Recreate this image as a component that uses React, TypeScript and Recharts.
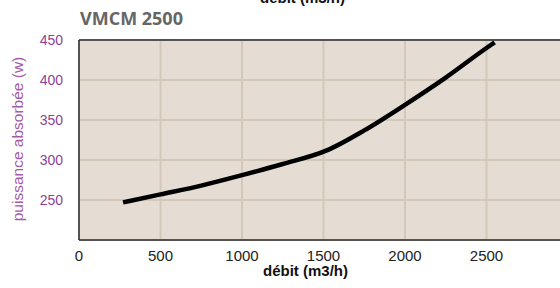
import React from 'react';
import {
    LineChart,
    Line,
    XAxis,
    YAxis,
    CartesianGrid,
    ReferenceLine
} from 'recharts';

// debit (m3/h) and absorbed power (w)
const debit = [270, 500, 750, 1000, 1250, 1520, 1750, 2000, 2250, 2500, 2550];
const puissance = [247, 257, 268, 281, 295, 312, 337, 369, 403, 440, 447];

const xTicks = [0, 500, 1000, 1500, 2000, 2500, 3000];
const yTicks = [200, 250, 300, 350, 400, 450];

const data = debit.map((d, i) => ({ debit: d, puissance: puissance[i] }));

const purple = '#8e3f91';

// rotated y axis title, centred on the plot height
const YTitle = () => (
    <text
        x={17}
        y={139}
        transform="rotate(-90, 17, 139)"
        textAnchor="middle"
        dominantBaseline="central"
        fill="#a45aa6"
        fontSize={15.5}
    >
        puissance absorbée (w)
    </text>
);

const App: React.FC = () => {
    return (
        <div style={{ position: 'absolute', left: 0, top: 0, width: 560, height: 288, overflow: 'hidden', background: '#fff', fontFamily: 'Liberation Sans, Arial, sans-serif' }}>
            {/* cut-off axis title from the chart above */}
            <div style={{ position: 'absolute', left: 260, top: -11, fontSize: 15, fontWeight: 700, color: '#111' }}>
                débit (m3/h)
            </div>
            <div style={{ position: 'absolute', left: 80, top: 6, fontSize: 18, fontWeight: 700, color: '#666', fontFamily: 'Open Sans, sans-serif' }}>
                VMCM 2500
            </div>
            <LineChart
                width={600}
                height={288}
                data={data}
                margin={{ top: 40, right: 32, bottom: 0, left: 0 }}
                style={{ position: 'absolute', left: 0, top: 0 }}
            >
                <CartesianGrid
                    stroke="#d3c8ba"
                    strokeWidth={2}
                    fill="#e5ddd3"
                    fillOpacity={1}
                />
                <XAxis
                    type="number"
                    dataKey="debit"
                    domain={[0, 3000]}
                    ticks={xTicks}
                    height={48}
                    axisLine={{ stroke: '#2b2b2b', strokeWidth: 1.5 }}
                    tickLine={false}
                    tickMargin={4}
                    tick={{ fill: '#222', fontSize: 15 }}
                    tickFormatter={(v: number) => (v === 3000 ? '' : String(v))}
                    label={{ value: 'débit (m3/h)', position: 'insideBottom', offset: 12, fill: '#111', fontSize: 15, fontWeight: 700, dx: -18 }}
                />
                <YAxis
                    type="number"
                    domain={[200, 450]}
                    ticks={yTicks}
                    width={79}
                    axisLine={{ stroke: '#2b2b2b', strokeWidth: 1.5 }}
                    tickLine={false}
                    tickMargin={10}
                    tick={{ fill: purple, fontSize: 14 }}
                    tickFormatter={(v: number) => (v === 200 ? '' : String(v))}
                    label={<YTitle />}
                />
                <ReferenceLine y={450} stroke="#2b2b2b" strokeWidth={1.5} />
                <Line
                    type="monotone"
                    dataKey="puissance"
                    stroke="#000"
                    strokeWidth={4.5}
                    dot={false}
                    isAnimationActive={false}
                />
            </LineChart>
        </div>
    );
};

export default App;
